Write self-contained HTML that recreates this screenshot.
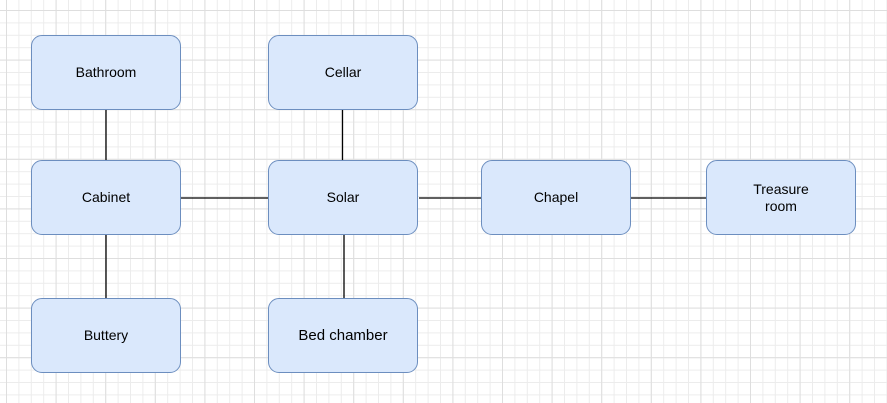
<!DOCTYPE html>
<html><head><style>
html,body{margin:0;padding:0;}
body{width:887px;height:403px;overflow:hidden;background:#fff;position:relative;font-family:"Liberation Sans",Arial,sans-serif;}
svg{position:absolute;left:0;top:0;}
.b{position:absolute;width:148px;height:73px;background:#dae8fc;border:1px solid #6c8ebf;border-radius:11px;display:flex;align-items:center;justify-content:center;text-align:center;font-size:14px;color:#000;line-height:17px;}
</style></head><body>
<svg width="887" height="403">
<defs>
<pattern id="g" x="6" y="10" width="12.4" height="12.4" patternUnits="userSpaceOnUse">
<path d="M0.5 0V12.4M0 0.5H12.4" stroke="#ececec" stroke-width="1" fill="none"/>
</pattern>
<pattern id="G" x="6" y="10" width="49.6" height="49.6" patternUnits="userSpaceOnUse">
<path d="M0.5 0V49.6M0 0.5H49.6" stroke="#dedede" stroke-width="1" fill="none"/>
</pattern>
</defs>
<rect width="887" height="403" fill="url(#g)"/>
<rect width="887" height="403" fill="url(#G)"/>
<g stroke="#000" stroke-width="1.3">
<line x1="106" y1="110" x2="106" y2="160"/>
<line x1="106" y1="235" x2="106" y2="298"/>
<line x1="181" y1="198" x2="268" y2="198"/>
<line x1="342.5" y1="110" x2="342.5" y2="160"/>
<line x1="344" y1="235" x2="344" y2="298"/>
<line x1="419" y1="198" x2="481" y2="198"/>
<line x1="631" y1="198" x2="706" y2="198"/>
</g>
</svg>
<div class="b" style="left:31px;top:35px">Bathroom</div>
<div class="b" style="left:268px;top:35px">Cellar</div>
<div class="b" style="left:31px;top:160px">Cabinet</div>
<div class="b" style="left:268px;top:160px">Solar</div>
<div class="b" style="left:481px;top:160px">Chapel</div>
<div class="b" style="left:706px;top:160px">Treasure<br>room</div>
<div class="b" style="left:31px;top:298px">Buttery</div>
<div class="b" style="left:268px;top:298px;font-size:15px">Bed chamber</div>
</body></html>
